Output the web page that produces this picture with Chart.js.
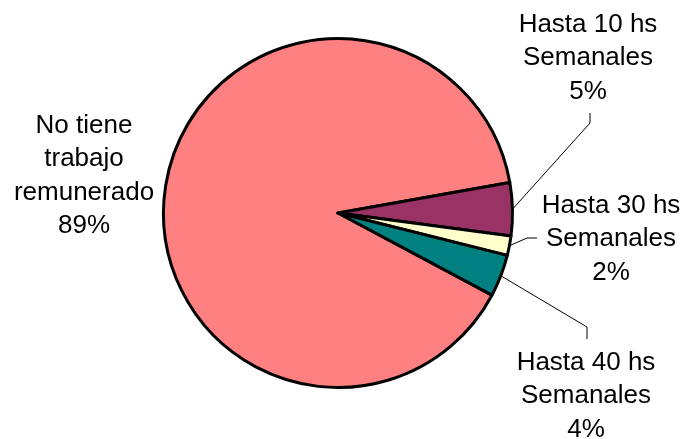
<!DOCTYPE html>
<html>
<head>
<meta charset="utf-8">
<script src="https://cdn.jsdelivr.net/npm/chart.js@4.4.0/dist/chart.umd.min.js"></script>
<style>
  html, body { margin: 0; padding: 0; background: #ffffff; }
  #wrap { position: relative; width: 688px; height: 439px; }
</style>
</head>
<body>
<div id="wrap"><canvas id="c" width="688" height="439"></canvas></div>
<script>
// ---- data ----
const categories = [
  ["No tiene", "trabajo", "remunerado"],
  ["Hasta 10 hs", "Semanales"],
  ["Hasta 30 hs", "Semanales"],
  ["Hasta 40 hs", "Semanales"]
];
const values = [89.4, 4.9, 1.8, 3.9];
const colors = ["#FF8080", "#993366", "#FFFFCC", "#008080"];

// ---- label layout (text placement only) ----
const labelLayout = [
  { cx: 84,  baseline: 133, elbow: null, end: null },
  { cx: 588, baseline: 32,  elbow: [590, 123], end: [590, 113] },
  { cx: 611, baseline: 213, elbow: [527, 238], end: [537, 238] },
  { cx: 586, baseline: 370, elbow: [587, 327], end: [587, 339] }
];
const lineStep = 33.3;

const total = values.reduce((a, b) => a + b, 0);

const labelPlugin = {
  id: 'pieLabels',
  afterDatasetsDraw(chart) {
    const ctx = chart.ctx;
    const meta = chart.getDatasetMeta(0);
    ctx.save();
    ctx.font = '26px "Liberation Sans", Arial, sans-serif';
    ctx.fillStyle = '#000000';
    ctx.textAlign = 'center';
    ctx.textBaseline = 'alphabetic';
    meta.data.forEach((arc, i) => {
      const L = labelLayout[i];
      const pct = Math.round(values[i] / total * 100) + '%';
      const lines = categories[i].concat([pct]);
      lines.forEach((t, k) => ctx.fillText(t, L.cx, L.baseline + k * lineStep));
      if (L.elbow) {
        const p = arc.getProps(['x', 'y', 'startAngle', 'endAngle', 'outerRadius'], true);
        const mid = (p.startAngle + p.endAngle) / 2;
        const ax = p.x + Math.cos(mid) * p.outerRadius;
        const ay = p.y + Math.sin(mid) * p.outerRadius;
        ctx.beginPath();
        ctx.strokeStyle = '#000000';
        ctx.lineWidth = 1;
        ctx.moveTo(ax, ay);
        ctx.lineTo(L.elbow[0], L.elbow[1]);
        ctx.lineTo(L.end[0], L.end[1]);
        ctx.stroke();
      }
    });
    ctx.restore();
  }
};

new Chart(document.getElementById('c'), {
  type: 'pie',
  data: {
    labels: categories.map(c => c.join(' ')),
    datasets: [{
      data: values,
      backgroundColor: colors,
      borderColor: '#000000',
      borderWidth: 3,
      borderJoinStyle: 'round'
    }]
  },
  options: {
    responsive: false,
    animation: false,
    rotation: 118.1,
    layout: { padding: { top: 37, bottom: 50, left: 162, right: 174 } },
    plugins: {
      legend: { display: false },
      tooltip: { enabled: false },
      title: { display: false }
    }
  },
  plugins: [labelPlugin]
});
</script>
</body>
</html>
